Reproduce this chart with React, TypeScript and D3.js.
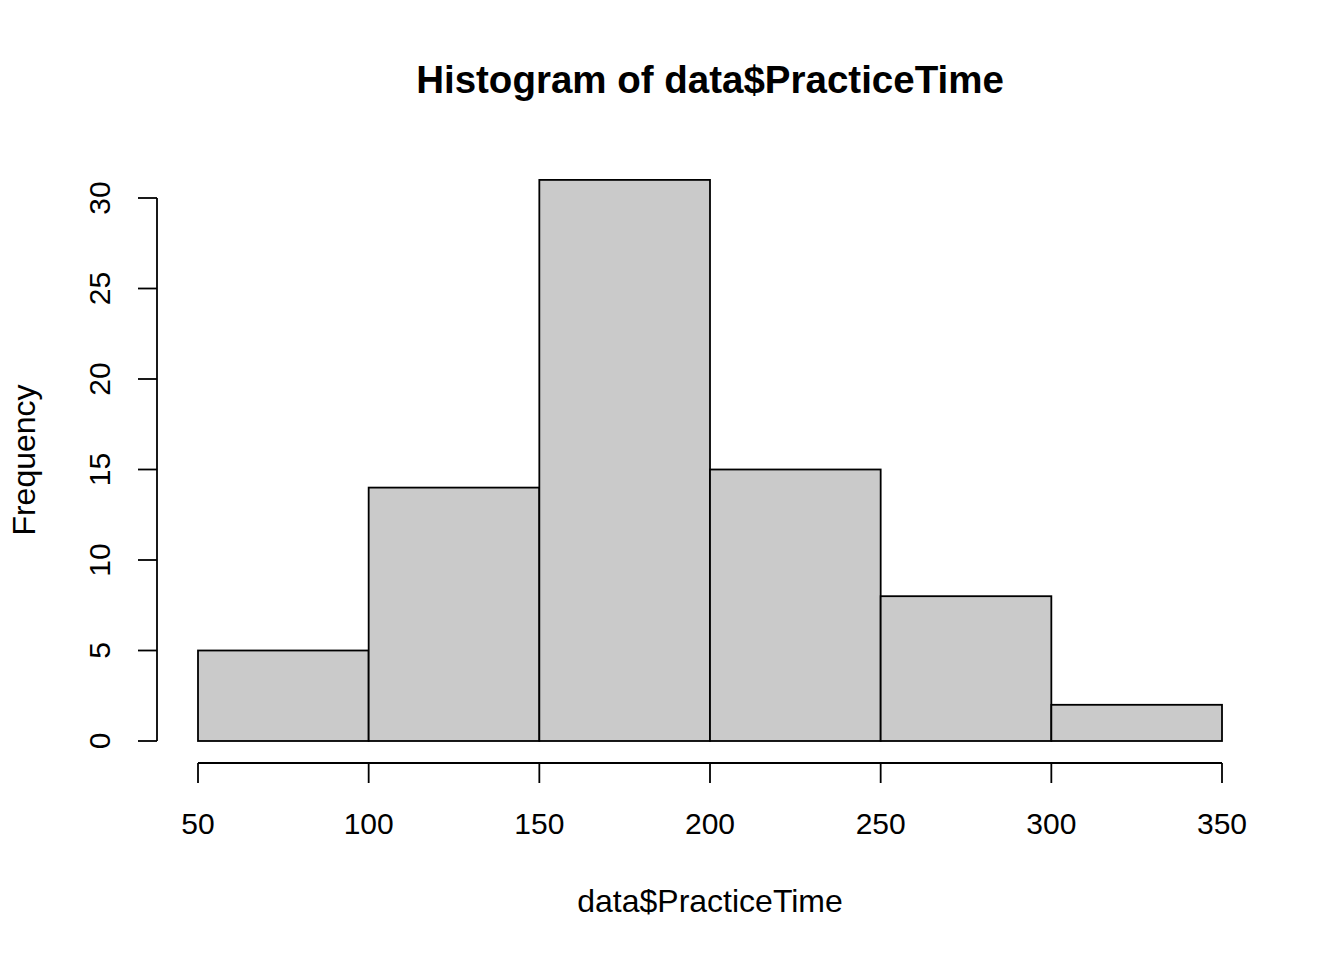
import React from "react";
import * as d3 from "d3";

const binStarts = [50, 100, 150, 200, 250, 300];
const binWidth = 50;
const counts = [5, 14, 31, 15, 8, 2];
const xTicks = [50, 100, 150, 200, 250, 300, 350];
const yTicks = [0, 5, 10, 15, 20, 25, 30];
const title = "Histogram of data$PracticeTime";
const xLabel = "data$PracticeTime";
const yLabel = "Frequency";

const W = 1344;
const H = 960;
const FONT = "'Liberation Sans', Arial, Helvetica, sans-serif";

export default function App() {
  const x = d3.scaleLinear().domain([50, 350]).range([198, 1222]);
  const y = d3.scaleLinear().domain([0, 30]).range([741, 198]);
  const xAxisY = 763;
  const yAxisX = 157;
  const fs = 30;
  const lfs = 32;
  return (
    <svg width={W} height={H} style={{ position: "absolute", left: 0, top: 0, background: "#fff" }} fontFamily={FONT}>
      <rect x={0} y={0} width={W} height={H} fill="#fff" />
      <text x={710} y={93} textAnchor="middle" fontSize={38.5} fontWeight="bold" fill="#000">{title}</text>
      {binStarts.map((b, i) => (
        <rect key={i} x={x(b)} y={y(counts[i])} width={x(b + binWidth) - x(b)} height={y(0) - y(counts[i])}
          fill="#cacaca" stroke="#000" strokeWidth={1.8} />
      ))}
      {/* x axis */}
      <line x1={x(xTicks[0])} x2={x(xTicks[xTicks.length - 1])} y1={xAxisY} y2={xAxisY} stroke="#000" strokeWidth={1.8} />
      {xTicks.map((t) => (
        <g key={t}>
          <line x1={x(t)} x2={x(t)} y1={xAxisY} y2={xAxisY + 20} stroke="#000" strokeWidth={1.8} />
          <text x={x(t)} y={834} textAnchor="middle" fontSize={fs} fill="#000">{t}</text>
        </g>
      ))}
      {/* y axis */}
      <line x1={yAxisX} x2={yAxisX} y1={y(yTicks[0])} y2={y(yTicks[yTicks.length - 1])} stroke="#000" strokeWidth={1.8} />
      {yTicks.map((t) => (
        <g key={t}>
          <line x1={yAxisX - 19} x2={yAxisX} y1={y(t)} y2={y(t)} stroke="#000" strokeWidth={1.8} />
          <text transform={`translate(110,${y(t)}) rotate(-90)`} textAnchor="middle" fontSize={fs} fill="#000">{t}</text>
        </g>
      ))}
      <text x={710} y={912} textAnchor="middle" fontSize={lfs} fill="#000">{xLabel}</text>
      <text transform={`translate(35,460) rotate(-90)`} textAnchor="middle" fontSize={lfs} fill="#000">{yLabel}</text>
    </svg>
  );
}
